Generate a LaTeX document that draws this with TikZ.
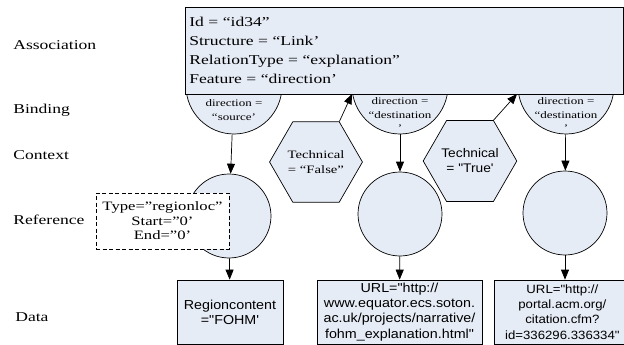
\documentclass[tikz,border=0pt]{standalone}
\usepackage{fontspec}
\setmainfont[FakeStretch=1.3]{Liberation Serif}
\newfontfamily\arialfont[FakeStretch=1.1]{Liberation Sans}
\usetikzlibrary{arrows.meta,shapes.geometric}
\definecolor{paleblue}{RGB}{230,236,246}

\begin{document}
\begin{tikzpicture}[x=1pt,y=-1pt,line width=0.7pt]
\tikzstyle{level} = [anchor=west,inner sep=0pt,font=\fontsize{13.5}{15}\selectfont]
\tikzstyle{bind} = [draw,fill=paleblue,circle,minimum size=96pt,inner sep=0pt]
\tikzstyle{bindtxt} = [inner sep=0pt,align=center,font=\fontsize{10}{13.5}\selectfont]
\tikzstyle{ref} = [draw,fill=paleblue,circle,minimum size=84pt,inner sep=0pt]
\tikzstyle{context} = [draw,fill=paleblue,regular polygon,regular polygon sides=6,minimum size=83pt,inner sep=0pt,align=center]
\tikzstyle{data} = [draw,fill=paleblue,minimum height=64pt,inner sep=0pt,align=center,font=\arialfont\fontsize{13}{15.2}\selectfont]
\tikzstyle{link} = [-{Triangle[length=10pt,width=8pt]}]
\useasboundingbox (0,0) rectangle (624,345);

% layer names
\node[level] (lassoc) at (13,45) {Association};
\node[level] (lbind) at (13,110) {Binding};
\node[level] (lctx) at (13,155) {Context};
\node[level] (lref) at (13,220) {Reference};
\node[level] (ldata) at (15,317) {Data};

% binding circles, partly under the association box
\node[bind] (b1) at (234,86) {};
\node[bind] (b2) at (400,86) {};
\node[bind] (b3) at (566,86) {};
\node[bindtxt] (b1t) at (234,110) {direction =\\“source’};
\node[bindtxt] (b2t) at (400,115) {direction =\\“destination\\’};
\node[bindtxt] (b3t) at (566,115) {direction =\\“destination\\’};

\node[draw,fill=paleblue,anchor=north west,minimum width=438pt,minimum height=87pt,
  inner xsep=4pt,text width=430pt,align=left,font=\fontsize{13.5}{19}\selectfont] (assoc) at (185,7)
  {Id = “id34”\\Structure = “Link’\\RelationType = “explanation”\\Feature = “direction’};

% context
\node[context,font=\fontsize{11.3}{15}\selectfont] (h1) at (316,162) {Technical\\= “False”};
\node[context,font=\arialfont\fontsize{12.5}{15}\selectfont] (h2) at (470,161) {Technical\\= "True'};
\coordinate (in1) at (352,94);
\coordinate (in2) at (517,94);

% references
\node[ref] (r1) at (229,216) {};
\node[ref] (r2) at (400,214) {};
\node[ref] (r3) at (565,213) {};
\node[draw,dashed,dash pattern=on 4pt off 2.5pt,fill=white,minimum width=133pt,minimum height=56pt,
  inner sep=0pt,align=center,font=\fontsize{12.8}{14.5}\selectfont] (loc) at (162.5,221)
  {Type="regionloc"\\Start="0'\\End="0'};

% data
\node[data,minimum width=106pt] (d1) at (230,312) {Regioncontent\\="FOHM'};
\node[data,minimum width=165pt] (d2) at (399.5,312) {URL="http://\\www.equator.ecs.soton.\\ac.uk/projects/narrative/\\fohm\_explanation.html"};
\node[data,anchor=west,minimum width=136pt,font=\arialfont\fontsize{12}{15.2}\selectfont] (d3) at (494,312) {URL="http://\\portal.acm.org/\\citation.cfm?\\id=336296.336334"};

\draw[link] (b1) -- (r1);
\draw[link] (b2) -- (r2);
\draw[link] (b3) -- (r3);
\draw[link] (r1) -- (d1);
\draw[link] (r2) -- (d2);
\draw[link] (r3) -- (r3 |- d3.north);
\draw[link] (h1.60) -- (in1);
\draw[link] (h2.60) -- (in2);
\end{tikzpicture}
\end{document}
